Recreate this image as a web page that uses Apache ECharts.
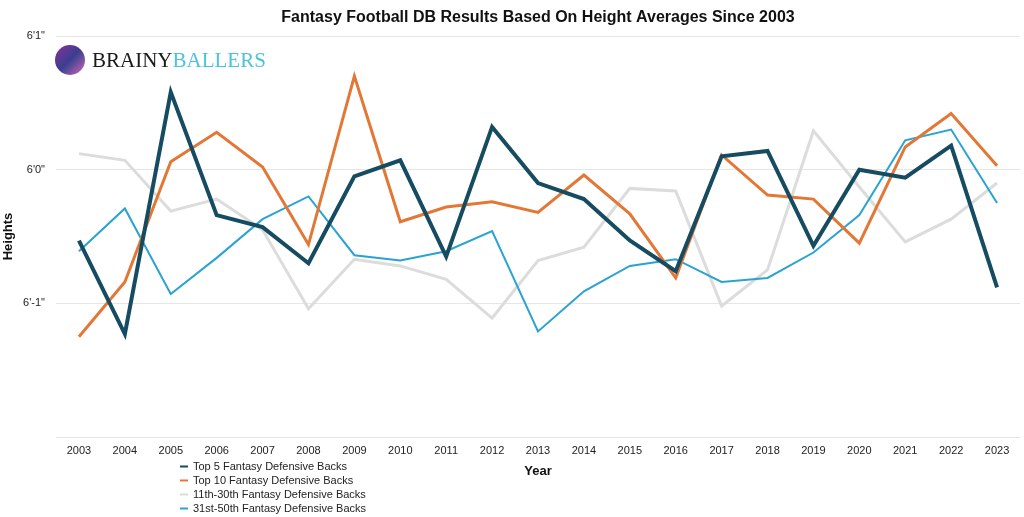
<!DOCTYPE html>
<html>
<head>
<meta charset="utf-8">
<script src="https://cdn.jsdelivr.net/npm/echarts@6/dist/echarts.min.js"></script>
<style>html,body{margin:0;padding:0;background:#fff}#c{width:1024px;height:517px}</style>
</head>
<body>
<div id="c"></div>
<script>
const years = ['2003','2004','2005','2006','2007','2008','2009','2010','2011','2012','2013','2014','2015','2016','2017','2018','2019','2020','2021','2022','2023'];
const top5 = [71.47,70.77,72.58,71.66,71.57,71.30,71.95,72.07,71.35,72.32,71.90,71.78,71.47,71.24,72.10,72.14,71.43,72.00,71.94,72.18,71.12];
const top10 = [70.75,71.16,72.06,72.28,72.02,71.44,72.70,71.61,71.72,71.76,71.68,71.96,71.67,71.19,72.11,71.81,71.78,71.45,72.17,72.42,72.03];
const r11to30 = [72.12,72.07,71.69,71.78,71.55,70.96,71.33,71.28,71.18,70.89,71.32,71.42,71.86,71.84,70.98,71.25,72.29,71.87,71.46,71.63,71.90];
const r31to50 = [71.39,71.71,71.07,71.34,71.63,71.80,71.36,71.32,71.39,71.54,70.79,71.09,71.28,71.33,71.16,71.19,71.38,71.66,72.22,72.30,71.75];
const yTickValues = [70, 71, 72, 73];
const yTickLabels = ['', "6'-1\"", "6'0\"", "6'1\""];
const seriesNames = ['Top 5 Fantasy Defensive Backs','Top 10 Fantasy Defensive Backs','11th-30th Fantasy Defensive Backs','31st-50th Fantasy Defensive Backs'];

const chart = echarts.init(document.getElementById('c'));
const font = '"Liberation Sans", Arial, sans-serif';
const serif = '"Liberation Serif", "DejaVu Serif", serif';
function mk(name, data, color, width, z) {
  return { name, type: 'line', data, symbol: 'none', z,
    lineStyle: { color, width, join: 'miter' }, itemStyle: { color } };
}
chart.setOption({
  animation: false,
  textStyle: { fontFamily: font },
  title: { text: 'Fantasy Football DB Results Based On Height Averages Since 2003', left: 533, textAlign: 'center', top: 5,
    textStyle: { fontSize: 16, fontWeight: 'bold', color: '#111', fontFamily: font } },
  grid: { left: 56, right: 4, top: 36, bottom: 80, containLabel: false, outerBoundsMode: 'none' },
  legend: { orient: 'vertical', left: 180, top: 461, padding: 0, icon: 'rect', itemWidth: 8, itemHeight: 2, itemGap: 3,
    textStyle: { fontSize: 11, color: '#222', fontFamily: font }, data: seriesNames },
  xAxis: { type: 'category', data: years, boundaryGap: true,
    name: 'Year', nameLocation: 'middle', nameGap: 28,
    nameTextStyle: { fontSize: 13, fontWeight: 'bold', color: '#111' },
    axisLine: { lineStyle: { color: '#e6e6e6' } }, axisTick: { show: false },
    axisLabel: { fontSize: 11, color: '#222', margin: 8 } },
  yAxis: { type: 'value', min: 70, max: 73, interval: 1,
    name: 'Heights', nameLocation: 'middle', nameGap: 41, nameMoveOverlap: false,
    nameTextStyle: { fontSize: 13, fontWeight: 'bold', color: '#111' },
    axisLine: { show: false }, axisTick: { show: false },
    splitLine: { lineStyle: { color: '#e6e6e6' } },
    axisLabel: { fontSize: 11, color: '#222', margin: 11,
      formatter: v => yTickLabels[yTickValues.indexOf(v)] || '' } },
  graphic: [
    { type: 'circle', shape: { cx: 70, cy: 60, r: 15 }, style: { fill: new echarts.graphic.LinearGradient(0,0,1,1,[{offset:0,color:'#8a2f9a'},{offset:0.5,color:'#3a3f8f'},{offset:1,color:'#d06ab8'}]) }, z: 10 },
    { type: 'text', left: 92, top: 51, z: 10, style: { text: '{a|BRAINY}{b|BALLERS}',
      rich: { a: { fontFamily: serif, fontSize: 21, fill: '#1a1a1a', color: '#1a1a1a' },
              b: { fontFamily: serif, fontSize: 21, fill: '#4cc3dc', color: '#4cc3dc' } } } }
  ],
  series: [
    mk(seriesNames[2], r11to30, '#dcdcdc', 3, 1),
    mk(seriesNames[3], r31to50, '#2aa3d2', 2, 2),
    mk(seriesNames[1], top10, '#e37836', 3, 3),
    mk(seriesNames[0], top5, '#164c62', 4, 4)
  ]
});
</script>
</body>
</html>
